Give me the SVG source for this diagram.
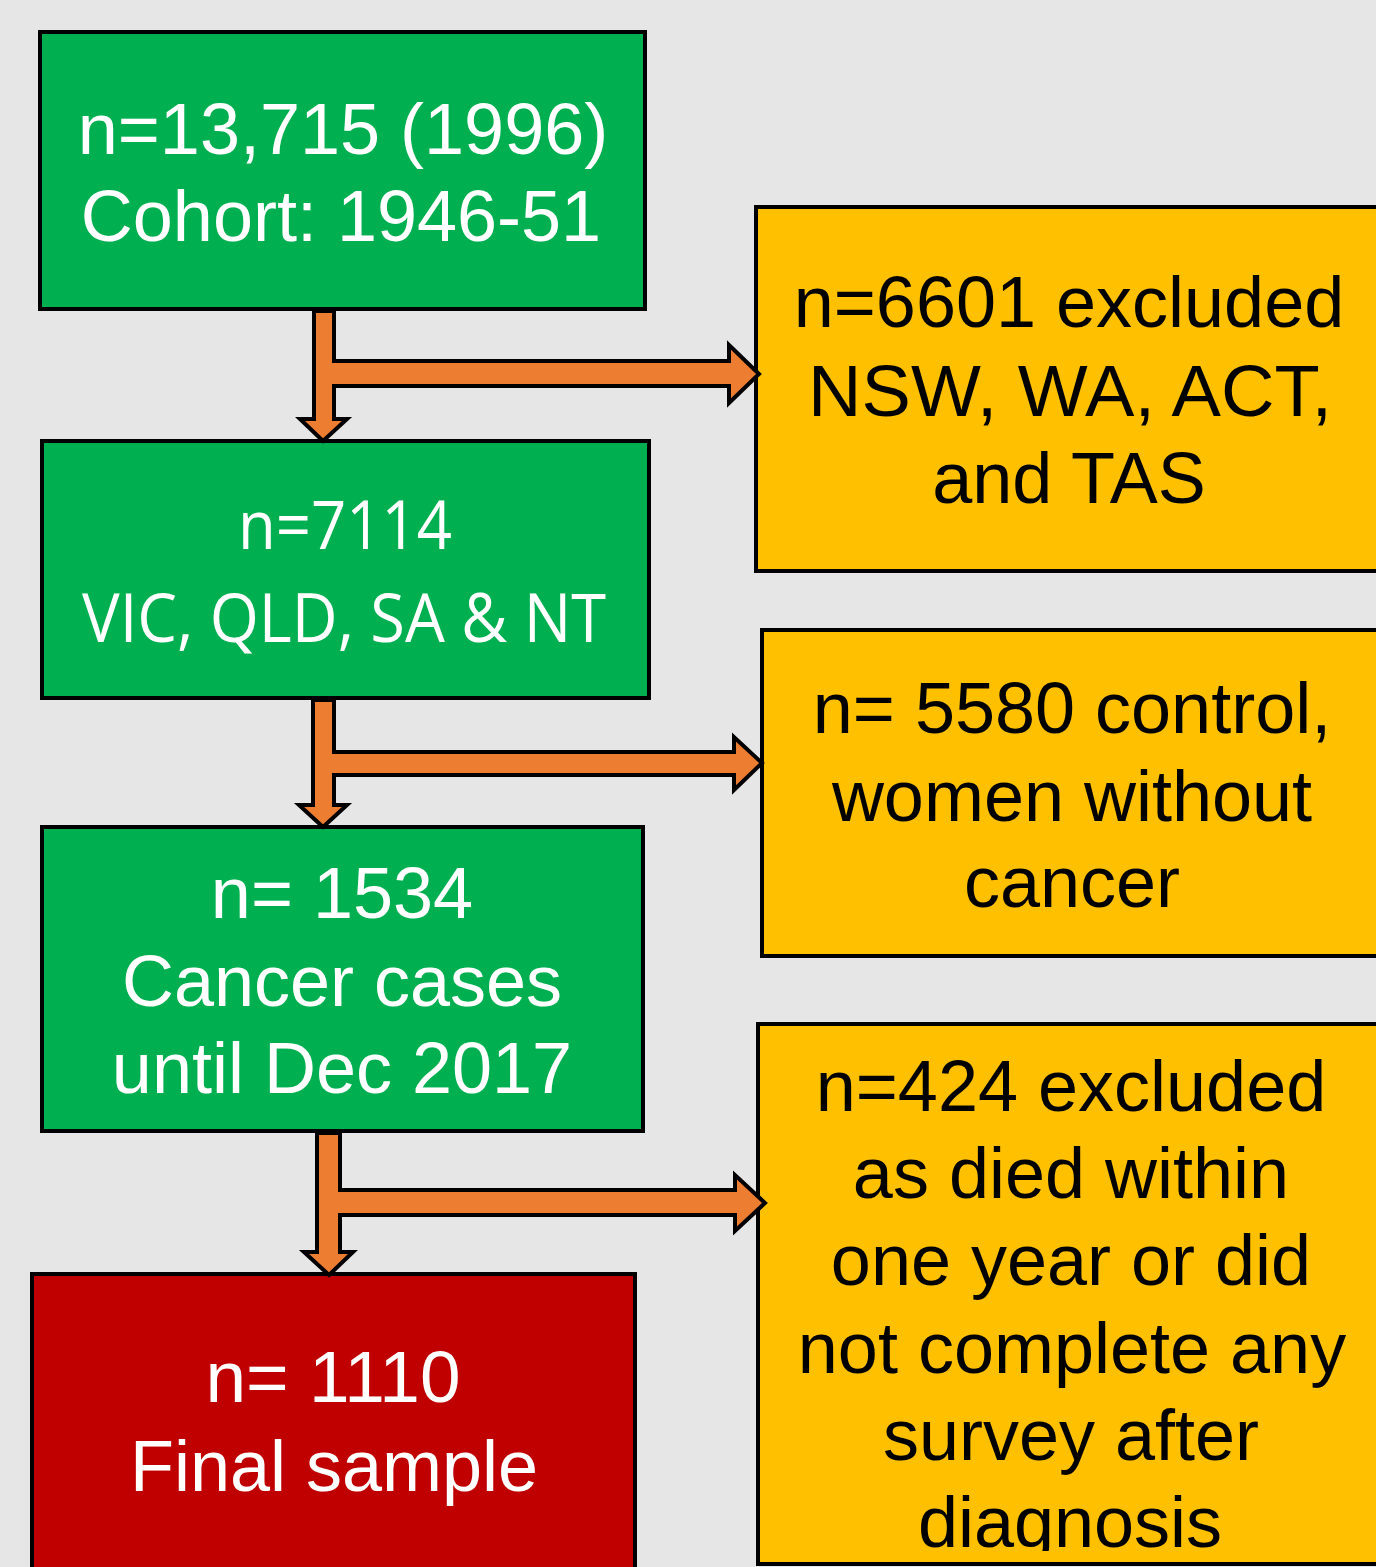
<svg xmlns="http://www.w3.org/2000/svg" width="1376" height="1567" viewBox="0 0 1376 1567">
<style>
.box{stroke:#000;stroke-width:4}
.green{fill:#00B050}
.yellow{fill:#FFC000}
.red{fill:#C00000}
.arr{fill:#ED7D31;stroke:#000;stroke-width:4;stroke-linejoin:miter}
.t{font-family:"Liberation Sans",Arial,sans-serif;font-size:72px;text-anchor:middle}
.cal{font-family:"Open Sans","Liberation Sans",sans-serif;font-size:67px;text-anchor:middle}
.w{fill:#fff}
.k{fill:#000}
</style>
<defs>
<clipPath id="clip3"><rect x="756" y="1022" width="640" height="529"/></clipPath>
</defs>
<rect x="0" y="0" width="1376" height="1567" fill="#E6E6E6"/>

<g id="node-cohort">
<rect class="box green" x="40" y="32" width="605" height="277"/>
<text class="t w" x="343" y="154">n=13,715 (1996)</text>
<text class="t w" x="341" y="241">Cohort: 1946-51</text>
</g>

<g id="node-states">
<rect class="box green" x="42" y="441" width="607" height="257"/>
<text class="cal w" x="345" y="549" textLength="214" lengthAdjust="spacingAndGlyphs">n=7114</text>
<text class="cal w" x="344" y="642" textLength="524" lengthAdjust="spacingAndGlyphs">VIC, QLD, SA &amp; NT</text>
</g>

<g id="node-cancer">
<rect class="box green" x="42" y="827" width="601" height="304"/>
<text class="t w" x="342" y="918">n= 1534</text>
<text class="t w" x="342" y="1006">Cancer cases</text>
<text class="t w" x="342" y="1093">until Dec 2017</text>
</g>

<g id="node-final">
<rect class="box red" x="32" y="1274" width="603" height="310"/>
<text class="t w" x="333" y="1402" textLength="255" lengthAdjust="spacingAndGlyphs">n= 1110</text>
<text class="t w" x="334" y="1491">Final sample</text>
</g>

<g id="node-excluded-states">
<rect class="box yellow" x="756" y="207" width="630" height="364"/>
<text class="t k" x="1069" y="327">n=6601 excluded</text>
<text class="t k" x="1070" y="416" textLength="524" lengthAdjust="spacingAndGlyphs">NSW, WA, ACT,</text>
<text class="t k" x="1069" y="503">and TAS</text>
</g>

<g id="node-control">
<rect class="box yellow" x="762" y="630" width="630" height="326"/>
<text class="t k" x="1072" y="733">n= 5580 control,</text>
<text class="t k" x="1072" y="821">women without</text>
<text class="t k" x="1072" y="907">cancer</text>
</g>

<g id="node-excluded-died">
<rect class="box yellow" x="758" y="1024" width="630" height="540"/>
<g clip-path="url(#clip3)">
<text class="t k" x="1071" y="1111">n=424 excluded</text>
<text class="t k" x="1071" y="1198">as died within</text>
<text class="t k" x="1071" y="1285">one year or did</text>
<text class="t k" x="1072" y="1373">not complete any</text>
<text class="t k" x="1071" y="1460">survey after</text>
<text class="t k" x="1070" y="1547">diagnosis</text>
</g>
</g>

<g id="connectors">
<path class="arr" d="M314,311 V419 H300 L323,441 L347,419 H334 V311 Z"/>
<path d="M332,361 H729 V345 L759,374 L729,403 V386 H332 Z" fill="#ED7D31"/>
<path class="arr" fill="none" d="M332,361 H729 V345 L759,374 L729,403 V386 H332"/>

<path class="arr" d="M313,700 V805 H299 L323,827 L347,805 H334 V700 Z"/>
<path d="M332,752 H734 V737 L762,763 L734,790 V775 H332 Z" fill="#ED7D31"/>
<path class="arr" fill="none" d="M332,752 H734 V737 L762,763 L734,790 V775 H332"/>

<path class="arr" d="M317,1133 V1252 H304 L329,1275 L353,1252 H340 V1133 Z"/>
<path d="M338,1190 H735 V1175 L765,1203 L735,1231 V1215 H338 Z" fill="#ED7D31"/>
<path class="arr" fill="none" d="M338,1190 H735 V1175 L765,1203 L735,1231 V1215 H338"/>
</g>
</svg>
